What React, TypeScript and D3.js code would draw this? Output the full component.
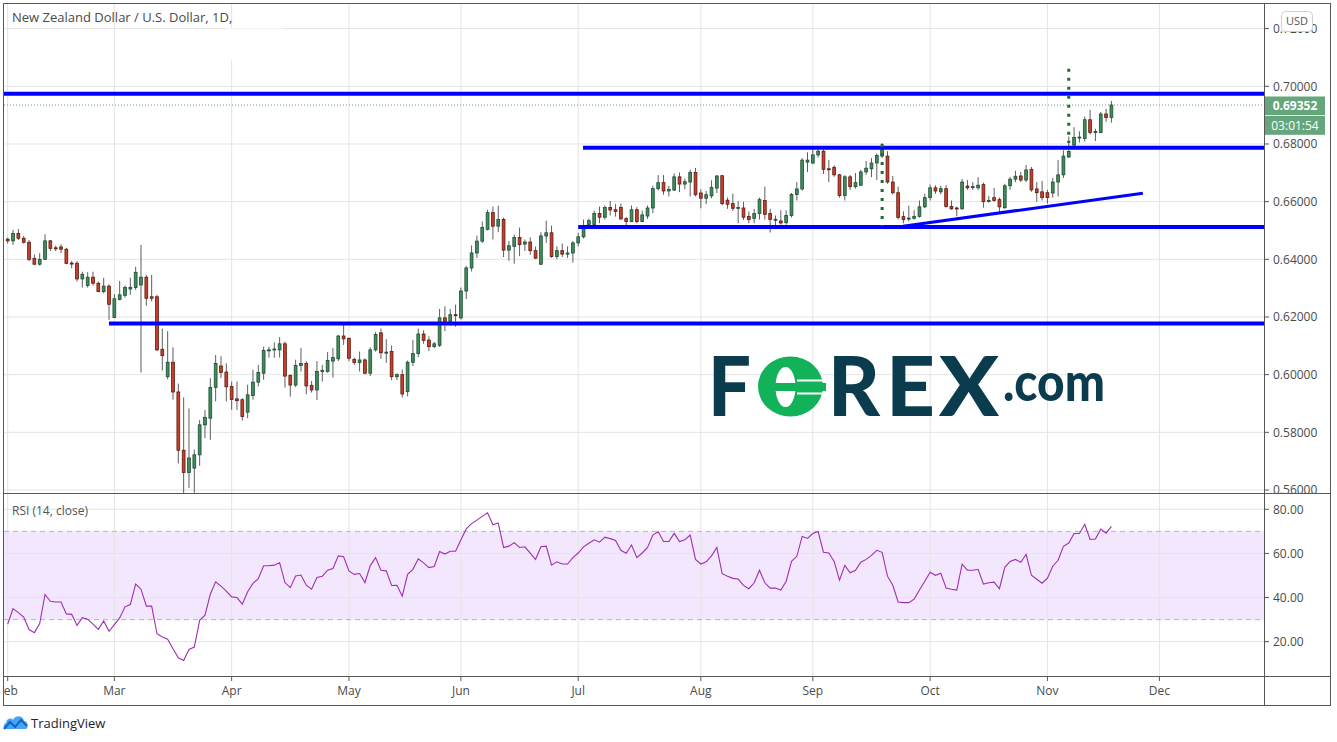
import React from "react";
import * as d3 from "d3";

// Daily NZD/USD bars, index 0 = 3 Feb 2020 (weekdays only)
const opens = [
  0.6470,0.6464,0.6490,0.6473,0.6459,0.6403,0.6383,0.6400,0.6464,0.6440,
  0.6443,0.6435,0.6387,0.6386,0.6332,0.6309,0.6338,0.6317,0.6288,0.6307,
  0.6198,0.6261,0.6275,0.6297,0.6302,0.6311,0.6338,0.6270,0.6270,0.6088,
  0.5993,0.6043,0.5940,0.5738,0.5661,0.5676,0.5722,0.5826,0.5849,0.5956,
  0.6030,0.6009,0.5959,0.5916,0.5913,0.5870,0.5928,0.5974,0.6005,0.6084,
  0.6086,0.6086,0.6107,0.5997,0.5964,0.6032,0.6039,0.5963,0.5947,0.6011,
  0.6011,0.6047,0.6055,0.6134,0.6126,0.6053,0.6042,0.6051,0.6005,0.6086,
  0.6145,0.6077,0.6080,0.5993,0.6000,0.5941,0.6043,0.6073,0.6141,0.6120,
  0.6097,0.6102,0.6197,0.6185,0.6208,0.6197,0.6290,0.6370,0.6422,0.6463,
  0.6504,0.6562,0.6515,0.6538,0.6432,0.6445,0.6476,0.6453,0.6460,0.6430,
  0.6383,0.6481,0.6492,0.6410,0.6430,0.6418,0.6422,0.6457,0.6478,0.6521,
  0.6521,0.6559,0.6546,0.6580,0.6572,0.6580,0.6541,0.6531,0.6572,0.6531,
  0.6550,0.6578,0.6645,0.6666,0.6637,0.6640,0.6686,0.6661,0.6668,0.6701,
  0.6630,0.6612,0.6620,0.6647,0.6690,0.6605,0.6593,0.6578,0.6578,0.6549,
  0.6542,0.6559,0.6604,0.6559,0.6538,0.6533,0.6527,0.6552,0.6625,0.6644,
  0.6737,0.6734,0.6762,0.6775,0.6714,0.6719,0.6693,0.6621,0.6686,0.6652,
  0.6657,0.6703,0.6714,0.6734,0.6758,0.6758,0.6668,0.6631,0.6548,0.6540,
  0.6542,0.6549,0.6582,0.6614,0.6648,0.6634,0.6645,0.6583,0.6578,0.6575,
  0.6654,0.6651,0.6648,0.6659,0.6601,0.6614,0.6607,0.6579,0.6655,0.6678,
  0.6689,0.6675,0.6712,0.6644,0.6634,0.6631,0.6630,0.6668,0.6693,0.6755,
  0.6796,0.6822,0.6819,0.6884,0.6840,0.6840,0.6904,0.6892,
];
const highs = [
  0.6475,0.6502,0.6505,0.6481,0.6467,0.6417,0.6421,0.6487,0.6467,0.6447,
  0.6452,0.6440,0.6394,0.6394,0.6357,0.6355,0.6357,0.6323,0.6336,0.6313,
  0.6279,0.6325,0.6309,0.6336,0.6374,0.6450,0.6346,0.6346,0.6277,0.6160,
  0.6151,0.6095,0.5969,0.5921,0.5883,0.5740,0.5843,0.5877,0.5988,0.6068,
  0.6064,0.6039,0.5976,0.5976,0.5918,0.5965,0.6017,0.6034,0.6097,0.6097,
  0.6112,0.6130,0.6115,0.6001,0.6052,0.6092,0.6047,0.5978,0.6047,0.6034,
  0.6078,0.6092,0.6138,0.6173,0.6128,0.6059,0.6080,0.6057,0.6095,0.6148,
  0.6160,0.6123,0.6101,0.6005,0.6018,0.6049,0.6120,0.6160,0.6154,0.6133,
  0.6114,0.6228,0.6237,0.6228,0.6243,0.6302,0.6377,0.6448,0.6482,0.6531,
  0.6572,0.6583,0.6586,0.6544,0.6463,0.6486,0.6510,0.6469,0.6476,0.6445,
  0.6494,0.6534,0.6517,0.6445,0.6455,0.6445,0.6463,0.6492,0.6538,0.6541,
  0.6569,0.6583,0.6587,0.6602,0.6591,0.6593,0.6547,0.6587,0.6581,0.6569,
  0.6587,0.6655,0.6692,0.6692,0.6655,0.6698,0.6701,0.6680,0.6711,0.6717,
  0.6643,0.6637,0.6674,0.6692,0.6692,0.6614,0.6628,0.6602,0.6600,0.6566,
  0.6575,0.6614,0.6652,0.6575,0.6552,0.6570,0.6570,0.6630,0.6668,0.6751,
  0.6771,0.6785,0.6789,0.6781,0.6744,0.6726,0.6696,0.6692,0.6692,0.6699,
  0.6710,0.6741,0.6751,0.6767,0.6803,0.6775,0.6689,0.6652,0.6566,0.6586,
  0.6570,0.6604,0.6627,0.6659,0.6657,0.6655,0.6657,0.6604,0.6583,0.6679,
  0.6675,0.6668,0.6685,0.6666,0.6620,0.6648,0.6614,0.6662,0.6686,0.6707,
  0.6703,0.6727,0.6720,0.6668,0.6672,0.6641,0.6682,0.6744,0.6778,0.6826,
  0.6858,0.6844,0.6895,0.6918,0.6853,0.6911,0.6922,0.6949,
];
const lows = [
  0.6455,0.6450,0.6467,0.6455,0.6394,0.6380,0.6378,0.6398,0.6429,0.6429,
  0.6421,0.6383,0.6369,0.6323,0.6302,0.6302,0.6309,0.6286,0.6282,0.6190,
  0.6196,0.6258,0.6267,0.6277,0.6294,0.6007,0.6239,0.6254,0.6082,0.6014,
  0.5984,0.5913,0.5692,0.5469,0.5607,0.5590,0.5684,0.5780,0.5774,0.5907,
  0.5988,0.5907,0.5878,0.5878,0.5841,0.5849,0.5913,0.5959,0.5982,0.6059,
  0.6059,0.6059,0.5955,0.5924,0.5957,0.6011,0.5932,0.5938,0.5912,0.5976,
  0.6007,0.5990,0.6047,0.6103,0.6047,0.6034,0.6011,0.6001,0.5995,0.6080,
  0.6055,0.6041,0.5981,0.5981,0.5921,0.5925,0.6030,0.6061,0.6107,0.6082,
  0.6092,0.6096,0.6151,0.6169,0.6166,0.6191,0.6262,0.6358,0.6405,0.6457,
  0.6500,0.6469,0.6494,0.6408,0.6395,0.6385,0.6411,0.6429,0.6416,0.6401,
  0.6380,0.6457,0.6405,0.6401,0.6408,0.6405,0.6388,0.6445,0.6472,0.6509,
  0.6519,0.6525,0.6538,0.6552,0.6548,0.6538,0.6506,0.6529,0.6525,0.6529,
  0.6540,0.6560,0.6639,0.6624,0.6618,0.6637,0.6633,0.6643,0.6618,0.6618,
  0.6577,0.6591,0.6612,0.6630,0.6587,0.6575,0.6568,0.6525,0.6536,0.6525,
  0.6525,0.6538,0.6538,0.6493,0.6518,0.6520,0.6520,0.6545,0.6604,0.6638,
  0.6703,0.6730,0.6753,0.6696,0.6668,0.6686,0.6614,0.6604,0.6641,0.6645,
  0.6655,0.6693,0.6685,0.6675,0.6751,0.6662,0.6625,0.6538,0.6525,0.6531,
  0.6538,0.6545,0.6577,0.6604,0.6627,0.6625,0.6579,0.6572,0.6549,0.6572,
  0.6641,0.6641,0.6641,0.6579,0.6597,0.6600,0.6559,0.6575,0.6641,0.6668,
  0.6668,0.6668,0.6634,0.6600,0.6604,0.6593,0.6614,0.6618,0.6682,0.6751,
  0.6792,0.6805,0.6808,0.6833,0.6810,0.6837,0.6877,0.6874,
];
const closes = [
  0.6464,0.6490,0.6473,0.6459,0.6400,0.6383,0.6400,0.6464,0.6438,0.6436,
  0.6435,0.6386,0.6385,0.6332,0.6348,0.6338,0.6317,0.6288,0.6307,0.6244,
  0.6263,0.6277,0.6302,0.6303,0.6355,0.6338,0.6265,0.6265,0.6086,0.6066,
  0.6043,0.5940,0.5738,0.5661,0.5711,0.5722,0.5826,0.5852,0.5956,0.6039,
  0.6008,0.5958,0.5914,0.5910,0.5855,0.5930,0.5974,0.6008,0.6084,0.6086,
  0.6089,0.6107,0.5995,0.5964,0.6032,0.6039,0.5961,0.5947,0.6011,0.6015,
  0.6049,0.6059,0.6134,0.6124,0.6057,0.6042,0.6051,0.6005,0.6086,0.6139,
  0.6076,0.6078,0.5993,0.6000,0.5933,0.6043,0.6073,0.6141,0.6119,0.6097,
  0.6107,0.6197,0.6185,0.6208,0.6206,0.6290,0.6370,0.6422,0.6463,0.6510,
  0.6562,0.6515,0.6538,0.6432,0.6447,0.6476,0.6451,0.6460,0.6430,0.6404,
  0.6481,0.6492,0.6410,0.6430,0.6418,0.6422,0.6457,0.6478,0.6507,0.6534,
  0.6559,0.6546,0.6580,0.6571,0.6566,0.6540,0.6531,0.6572,0.6531,0.6554,
  0.6578,0.6645,0.6666,0.6637,0.6642,0.6686,0.6661,0.6669,0.6701,0.6624,
  0.6612,0.6624,0.6649,0.6689,0.6593,0.6591,0.6577,0.6580,0.6546,0.6538,
  0.6559,0.6607,0.6556,0.6538,0.6539,0.6526,0.6552,0.6625,0.6644,0.6744,
  0.6744,0.6762,0.6775,0.6712,0.6712,0.6693,0.6621,0.6686,0.6652,0.6666,
  0.6703,0.6716,0.6734,0.6760,0.6781,0.6668,0.6631,0.6545,0.6538,0.6543,
  0.6549,0.6582,0.6614,0.6648,0.6637,0.6645,0.6583,0.6575,0.6576,0.6668,
  0.6648,0.6652,0.6657,0.6600,0.6604,0.6604,0.6582,0.6655,0.6678,0.6688,
  0.6675,0.6710,0.6641,0.6631,0.6614,0.6614,0.6668,0.6693,0.6758,0.6774,
  0.6823,0.6824,0.6884,0.6840,0.6843,0.6904,0.6892,0.6935,
];
const rsiValues = [
  27.9,35.0,33.2,31.2,25.5,24.1,28.2,41.4,38.3,38.0,
  38.0,32.6,32.4,27.4,30.9,30.2,28.0,25.6,29.4,24.7,
  27.7,30.8,35.8,36.8,46.1,43.8,36.1,36.1,23.6,22.1,
  21.1,16.8,12.7,11.5,16.5,17.6,29.7,32.0,41.5,47.1,
  45.2,42.9,40.3,40.0,37.0,42.6,46.4,48.6,54.4,54.4,
  54.7,55.8,46.8,44.5,49.8,50.2,45.6,43.8,49.1,49.7,
  52.4,53.2,58.9,58.5,52.1,50.5,50.9,46.8,54.5,58.1,
  52.4,52.1,45.5,45.6,40.6,50.5,52.8,57.6,55.7,53.6,
  54.1,60.9,59.7,61.0,61.0,66.2,71.1,73.5,75.1,76.8,
  78.4,73.0,73.8,62.7,63.3,64.9,62.7,63.0,60.1,57.3,
  63.0,63.3,54.7,56.2,55.2,55.2,58.1,60.2,63.0,64.6,
  66.2,65.1,67.4,66.7,65.9,61.4,60.1,63.8,58.1,60.2,
  62.7,68.3,69.8,65.4,65.4,69.1,65.4,66.2,68.3,57.3,
  55.2,56.2,58.9,62.7,50.8,49.7,48.7,48.4,45.5,44.0,
  46.7,52.4,46.7,44.3,44.3,43.4,47.4,56.4,58.7,67.7,
  66.8,69.0,69.9,60.5,60.2,56.4,47.9,54.6,51.2,52.4,
  56.0,57.3,59.1,61.4,60.5,49.7,45.6,38.0,37.7,37.7,
  39.3,43.4,47.4,51.5,50.1,51.0,44.3,43.8,43.4,55.1,
  52.4,52.4,52.8,46.1,46.7,47.0,44.0,53.7,56.4,57.3,
  56.0,59.6,50.1,48.3,46.5,48.8,54.2,56.9,63.2,64.7,
  69.0,69.0,73.2,66.3,66.5,71.0,69.2,72.3,
];

// time axis
const monthLabels = ["Feb", "Mar", "Apr", "May", "Jun", "Jul", "Aug", "Sep", "Oct", "Nov", "Dec"];
const monthStartIndex = [0, 20, 42, 64, 85, 107, 130, 151, 173, 195, 216];
const priceTicks = [0.56, 0.58, 0.6, 0.62, 0.64, 0.66, 0.68, 0.7, 0.72];
const rsiTicks = [20, 40, 60, 80];

// drawings
const levelPrices = [0.6974, 0.6787, 0.6512, 0.6177];
const levelStartIndex = [-3, 107.9, 107.0, 19.0];
const trendIndex = [167.9, 212.9];
const trendPrice = [0.6515, 0.6629];
const dottedIndex = [164, 199];
const dottedFrom = [0.6516, 0.6803];
const dottedTo = [0.68, 0.7061];
const lastPrice = 0.69352;
const lastPriceText = "0.69352";
const countdownText = "03:01:54";

const FONT = "'Open Sans', 'Noto Sans', sans-serif";

export default function App() {
  const W = 1337, H = 742;
  const L = 4, R = 1264, TOP = 4, MAINB = 493, RSIB = 676, AXB = 705;
  const x = d3.scaleLinear().domain([0, 216]).range([7.7, 1159.4]);
  const y = d3.scaleLinear().domain([0.56, 0.7]).range([490, 86.3]);
  const yr = d3.scaleLinear().domain([20, 80]).range([641.7, 509.3]);

  const rsiLine = d3.line<number>().x((_, i) => x(i)).y((d) => yr(d));

  const up = "#3f8d5d", upStroke = "#1c4d31";
  const dn = "#c73e2b", dnStroke = "#5c1a10";
  const grid = "#e4e4e4";
  const border = "#575757";
  const textCol = "#4a4a4a";

  return (
    <svg width={W} height={H} style={{ position: "absolute", left: 0, top: 0, background: "#fff" }}>
      <defs>
        <clipPath id="mainClip"><rect x={L} y={TOP} width={R - L} height={MAINB - TOP} /></clipPath>
        <clipPath id="rsiClip"><rect x={L} y={MAINB} width={R - L} height={RSIB - MAINB} /></clipPath>
        <clipPath id="axClip"><rect x={L} y={RSIB} width={R - L} height={AXB - RSIB} /></clipPath>
        <clipPath id="pAxClip"><rect x={R} y={TOP} width={70} height={MAINB - TOP} /></clipPath>
      </defs>
      <rect x={0} y={0} width={W} height={H} fill="#fff" />

      {/* grids */}
      <g clipPath="url(#mainClip)">
        {priceTicks.map((p) => (
          <line key={p} x1={L} x2={R} y1={y(p)} y2={y(p)} stroke={grid} strokeWidth={1} />
        ))}
        {monthStartIndex.map((m) => (
          <line key={m} x1={x(m)} x2={x(m)} y1={TOP} y2={MAINB} stroke={grid} strokeWidth={1} />
        ))}
      </g>
      <g clipPath="url(#rsiClip)">
        <rect x={L} y={yr(70)} width={R - L} height={yr(30) - yr(70)} fill="#f3e7fd" />
        {rsiTicks.map((v) => (
          <line key={v} x1={L} x2={R} y1={yr(v)} y2={yr(v)} stroke={grid} strokeWidth={1} />
        ))}
        {monthStartIndex.map((m) => (
          <line key={m} x1={x(m)} x2={x(m)} y1={MAINB} y2={RSIB} stroke={grid} strokeWidth={1} />
        ))}
        {[70, 30].map((v) => (
          <line key={v} x1={L} x2={R} y1={yr(v)} y2={yr(v)} stroke="#b8b3bd" strokeWidth={1} strokeDasharray="5,4" />
        ))}
        <path d={rsiLine(rsiValues) || ""} fill="none" stroke="#9e2fb3" strokeWidth={1.1} />
      </g>

      {/* title patch */}
      <rect x={227} y={28.5} width={56} height={32} fill="#fff" />
      <text x={12} y={21.5} fontFamily={FONT} fontSize={13} fill={textCol}>New Zealand Dollar / U.S. Dollar, 1D,</text>

      {/* FOREX.com watermark */}
      <g>
        <text x={708} y={416} fontFamily="Lato, 'Open Sans', sans-serif" fontWeight={900} fontSize={81} fill="#0b3c4d" textLength={43} lengthAdjust="spacingAndGlyphs">F</text>
        <ellipse cx={790.5} cy={386.5} rx={32.5} ry={30} fill="#12b25a" />
        <ellipse cx={785.5} cy={387} rx={10} ry={20} fill="#fff" />
        <rect x={774} y={383} width={52} height={8} fill="#12b25a" />
        <line x1={797} x2={826} y1={380.5} y2={380.5} stroke="#fff" strokeWidth={2} />
        <line x1={797} x2={826} y1={393.5} y2={393.5} stroke="#fff" strokeWidth={2} />
        <text x={828} y={416} fontFamily="Lato, 'Open Sans', sans-serif" fontWeight={900} fontSize={81} fill="#0b3c4d" textLength={52} lengthAdjust="spacingAndGlyphs">R</text>
        <text x={886} y={416} fontFamily="Lato, 'Open Sans', sans-serif" fontWeight={900} fontSize={81} fill="#0b3c4d" textLength={49} lengthAdjust="spacingAndGlyphs">E</text>
        <text x={939} y={416} fontFamily="Lato, 'Open Sans', sans-serif" fontWeight={900} fontSize={81} fill="#0b3c4d" textLength={60} lengthAdjust="spacingAndGlyphs">X</text>
        <text x={1003} y={401} fontFamily="Lato, 'Open Sans', sans-serif" fontWeight={900} fontSize={54} fill="#0b3c4d" textLength={102} lengthAdjust="spacingAndGlyphs">.com</text>
      </g>

      {/* candles & drawings */}
      <g clipPath="url(#mainClip)">
        <line x1={L} x2={R} y1={y(lastPrice)} y2={y(lastPrice)} stroke="#5e9e7a" strokeWidth={1} strokeDasharray="1,2" />
        {closes.map((c, i) => {
          const o = opens[i], h = highs[i], l = lows[i];
          const cx = x(i);
          const isUp = c >= o;
          const top = y(Math.max(o, c));
          const bh = Math.max(1, y(Math.min(o, c)) - top);
          return (
            <g key={i}>
              <line x1={cx} x2={cx} y1={y(h)} y2={y(l)} stroke="#5e5e5e" strokeWidth={1} />
              <rect x={cx - 1.4} y={top} width={2.8} height={bh} fill={isUp ? up : dn} stroke={isUp ? upStroke : dnStroke} strokeWidth={0.8} />
            </g>
          );
        })}
        {levelPrices.map((p, k) => (
          <line key={k} x1={x(levelStartIndex[k])} x2={R} y1={y(p)} y2={y(p)} stroke="#0000ff" strokeWidth={4} />
        ))}
        <line x1={x(trendIndex[0])} x2={x(trendIndex[1])} y1={y(trendPrice[0])} y2={y(trendPrice[1])} stroke="#0000ff" strokeWidth={3} />
        {dottedIndex.map((d, k) => (
          <line key={k} x1={x(d)} x2={x(d)} y1={y(dottedTo[k])} y2={y(dottedFrom[k])} stroke="#1e6b36" strokeWidth={3} strokeDasharray="3,6" />
        ))}
      </g>

      <text x={12} y={515} fontFamily={FONT} fontSize={12} fill="#555">RSI (14, close)</text>

      {/* frame */}
      <rect x={3.5} y={3.5} width={1327} height={702} fill="none" stroke={border} strokeWidth={1} />
      <line x1={R + 0.5} x2={R + 0.5} y1={3.5} y2={AXB + 0.5} stroke={border} strokeWidth={1} />
      <line x1={3.5} x2={1330.5} y1={MAINB + 0.5} y2={MAINB + 0.5} stroke={border} strokeWidth={1} />
      <line x1={3.5} x2={1330.5} y1={RSIB + 0.5} y2={RSIB + 0.5} stroke={border} strokeWidth={1} />

      {/* price axis */}
      <g clipPath="url(#pAxClip)">
        {priceTicks.map((p) => (
          <g key={p}>
            <line x1={R} x2={R + 5} y1={y(p)} y2={y(p)} stroke={border} strokeWidth={1} />
            <text x={1273} y={y(p) + 4.3} fontFamily={FONT} fontSize={12} fill={textCol}>{p.toFixed(5)}</text>
          </g>
        ))}
      </g>
      <rect x={1281.5} y={11.5} width={31} height={20} rx={4} fill="#fff" stroke="#cfcfcf" strokeWidth={1} />
      <text x={1297} y={25} textAnchor="middle" fontFamily={FONT} fontSize={11} fill="#555">USD</text>
      <rect x={1265} y={96.5} width={60} height={18.5} fill="#66a67d" />
      <text x={1295} y={110} textAnchor="middle" fontFamily={FONT} fontSize={12} fontWeight={700} fill="#fff">{lastPriceText}</text>
      <rect x={1265} y={115.8} width={60} height={19} fill="#66a67d" />
      <text x={1295} y={129.5} textAnchor="middle" fontFamily={FONT} fontSize={12} fill="#fff">{countdownText}</text>

      {/* rsi axis */}
      {rsiTicks.map((v) => (
        <g key={v}>
          <line x1={R} x2={R + 5} y1={yr(v)} y2={yr(v)} stroke={border} strokeWidth={1} />
          <text x={1273} y={yr(v) + 4.3} fontFamily={FONT} fontSize={12} fill={textCol}>{v.toFixed(2)}</text>
        </g>
      ))}

      {/* time axis */}
      <g clipPath="url(#axClip)">
        {monthStartIndex.map((m, k) => (
          <g key={m}>
            <line x1={x(m)} x2={x(m)} y1={RSIB} y2={RSIB + 5} stroke={border} strokeWidth={1} />
            <text x={x(m)} y={695} textAnchor="middle" fontFamily={FONT} fontSize={12} fill={textCol}>{monthLabels[k]}</text>
          </g>
        ))}
      </g>

      {/* TradingView logo */}
      <g>
        <path d="M5,729 C3,729 3,724 6,723 C6,719 11,717 13,720 C15,715 23,715 24,721 C28,721 29,728 26,729 Z" fill="#42a5f5" />
        <polyline points="4,729 10,722 15,727 21,720 27,726" fill="none" stroke="#1565c0" strokeWidth={2} />
        <text x={31} y={728} fontFamily={FONT} fontSize={13} fill="#1e222d">TradingView</text>
      </g>
    </svg>
  );
}
